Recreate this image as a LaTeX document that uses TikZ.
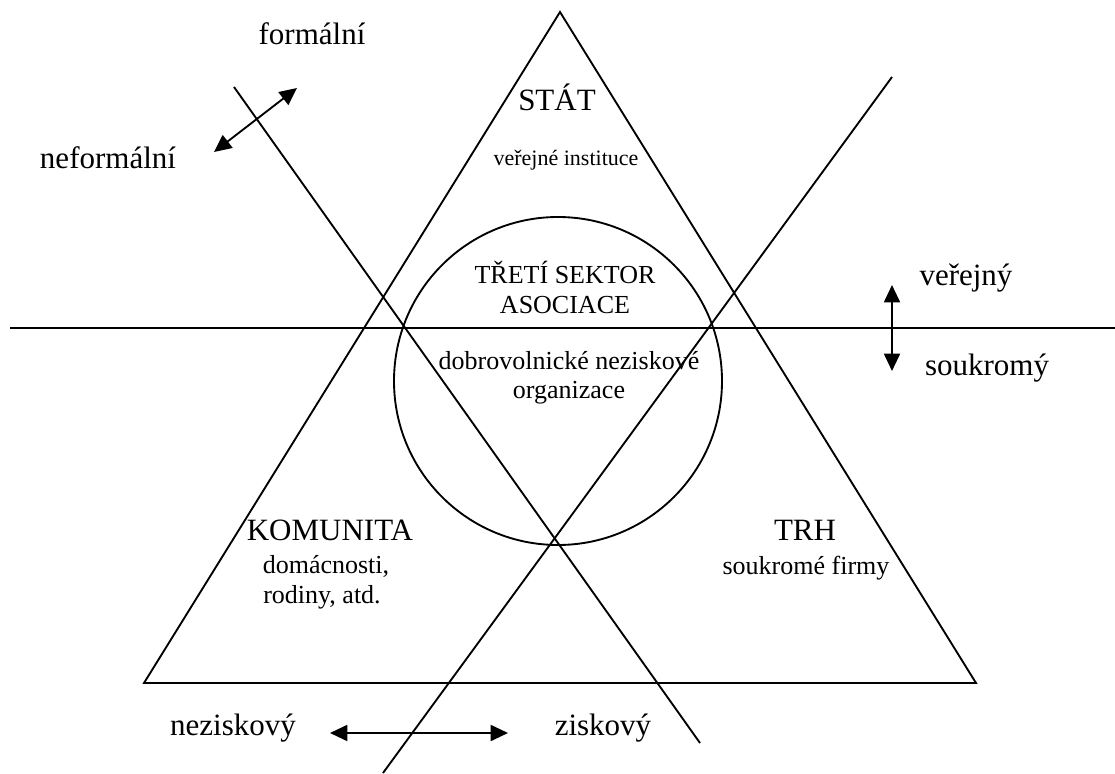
\documentclass[tikz,border=0pt]{standalone}
\usepackage{fontspec}
\setmainfont{Liberation Serif}
\usetikzlibrary{arrows.meta}
\begin{document}
\begin{tikzpicture}[x=0.75pt,y=-0.75pt,
  ln/.style={line width=1.4pt},
  dbl/.style={line width=1.4pt,{Triangle[length=13pt,width=12pt]}-{Triangle[length=13pt,width=12pt]}},
  big/.style={font=\fontsize{23.25}{27}\selectfont, inner sep=0pt, anchor=base},
  small/.style={font=\fontsize{19.5}{22.5}\selectfont, inner sep=0pt, anchor=base},
  tiny/.style={font=\fontsize{16.5}{19}\selectfont, inner sep=0pt, anchor=base},
]
\useasboundingbox (0,0) rectangle (1115,774);
% shapes
\coordinate (apex) at (560,12);
\coordinate (bl) at (144,683);
\coordinate (br) at (976,683);
\draw[ln, line join=miter] (apex) -- (bl) -- (br) -- cycle;
\coordinate (hl) at (10,328);
\coordinate (hr) at (1115,328);
\draw[ln] (hl) -- (hr);
\coordinate (cc) at (558,381);
\draw[ln] (cc) circle[radius=164];
\coordinate (d1a) at (234,87);
\coordinate (d1b) at (700,743);
\draw[ln] (d1a) -- (d1b);
\coordinate (d2a) at (892,77);
\coordinate (d2b) at (383,773);
\draw[ln] (d2a) -- (d2b);
% arrows
\coordinate (fa) at (214,152);
\coordinate (fb) at (297,88);
\draw[dbl] (fa) -- (fb);
\coordinate (va) at (892,285);
\coordinate (vb) at (892,371);
\draw[dbl] (va) -- (vb);
\coordinate (za) at (330,733);
\coordinate (zb) at (508,733);
\draw[dbl] (za) -- (zb);
% texts
\node[big] (formal) at (312,45) {formální};
\node[big] (neformal) at (108,168) {neformální};
\node[big] (stat) at (557,111) {STÁT};
\node[tiny] (verinst) at (566,166) {veřejné instituce};
\node[small] (treti) at (565,283) {TŘETÍ SEKTOR};
\node[small] (asoc) at (565,313) {ASOCIACE};
\node[small] (dobro) at (569,369) {dobrovolnické neziskové};
\node[small] (organ) at (569,398) {organizace};
\node[big] (verejny) at (966,285) {veřejný};
\node[big] (soukromy) at (987,375) {soukromý};
\node[big] (komunita) at (330,540) {KOMUNITA};
\node[small] (domac) at (326,573) {domácnosti,};
\node[small] (rodiny) at (322,603) {rodiny, atd.};
\node[big] (trh) at (805,540) {TRH};
\node[small] (firmy) at (806,574) {soukromé firmy};
\node[big] (nezisk) at (233,735) {neziskový};
\node[big] (zisk) at (603,735) {ziskový};
\end{tikzpicture}
\end{document}
